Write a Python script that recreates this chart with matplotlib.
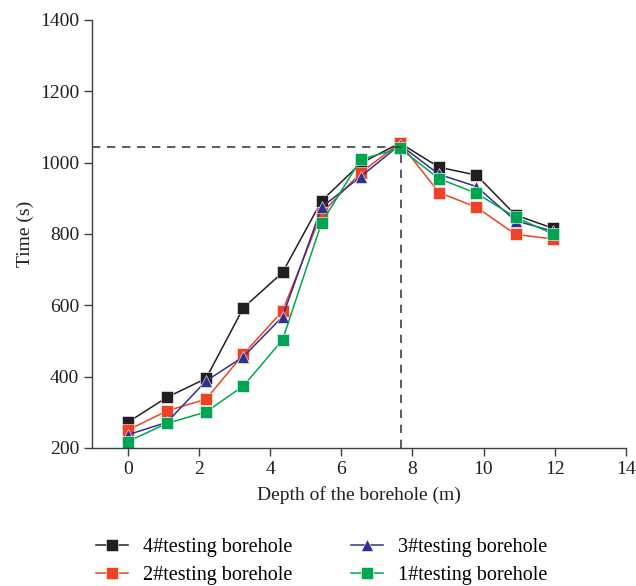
import matplotlib
matplotlib.use("Agg")
import matplotlib.pyplot as plt

plt.rcParams['font.family'] = ['Liberation Serif', 'DejaVu Serif']

# depth of each measuring point (m)
depth = [0, 1.1, 2.2, 3.25, 4.35, 5.45, 6.55, 7.65, 8.75, 9.8, 10.9, 11.95]

# time (s) for each testing borehole
bh4 = [272, 342, 395, 593, 692, 893, 998, 1055, 987, 965, 853, 816]
bh2 = [250, 304, 337, 463, 584, 858, 972, 1055, 916, 875, 799, 786]
bh3 = [237, 272, 388, 456, 568, 875, 961, 1050, 967, 933, 837, 808]
bh1 = [218, 269, 301, 374, 503, 832, 1009, 1040, 955, 914, 847, 800]

peak_depth = 7.67
peak_time = 1045

series = [
    ("4#testing borehole", bh4, "#231f20", "s"),
    ("2#testing borehole", bh2, "#ef4123", "s"),
    ("3#testing borehole", bh3, "#2e3192", "^"),
    ("1#testing borehole", bh1, "#00a551", "s"),
]

fig = plt.figure(figsize=(6.36, 5.86), dpi=100)
ax = fig.add_axes([0.145, 0.2355, 0.839, 0.7305])

handles = {}
for label, vals, col, mk in series:
    ms = 9 if mk == "^" else 8
    ln, = ax.plot(depth, vals, color=col, marker=mk, markersize=ms, lw=1.1,
                  markeredgecolor="white", markeredgewidth=0.4)
    handles[label] = ln

ax.plot([-1, peak_depth], [peak_time, peak_time], ls=(0, (5, 4)), color="#404040", lw=1.2)
ax.plot([peak_depth, peak_depth], [200, peak_time], ls=(0, (5, 4)), color="#404040", lw=1.2)

ax.set_xlim(-1, 14)
ax.set_ylim(200, 1400)
ax.set_xticks(range(0, 15, 2))
ax.set_yticks(range(200, 1401, 200))
ax.spines["top"].set_visible(False)
ax.spines["right"].set_visible(False)
for s in ["left", "bottom"]:
    ax.spines[s].set_color("#404040")
    ax.spines[s].set_linewidth(1.0)
ax.tick_params(direction="out", length=6, width=1.0, color="#404040", labelsize=14,
               labelcolor="#231f20")
ax.set_xlabel("Depth of the borehole (m)", fontsize=14, color="#231f20", labelpad=6)
ax.set_ylabel("Time (s)", fontsize=14, color="#231f20")

order = ["4#testing borehole", "2#testing borehole", "3#testing borehole", "1#testing borehole"]
fig.legend([handles[k] for k in order], order, ncol=2, frameon=False,
           loc="lower left", bbox_to_anchor=(0.128, -0.022), fontsize=14.5,
           columnspacing=2.9, handlelength=1.6, handletextpad=0.75,
           labelspacing=0.45, borderpad=0.2)

plt.savefig("out.png", dpi=100)
